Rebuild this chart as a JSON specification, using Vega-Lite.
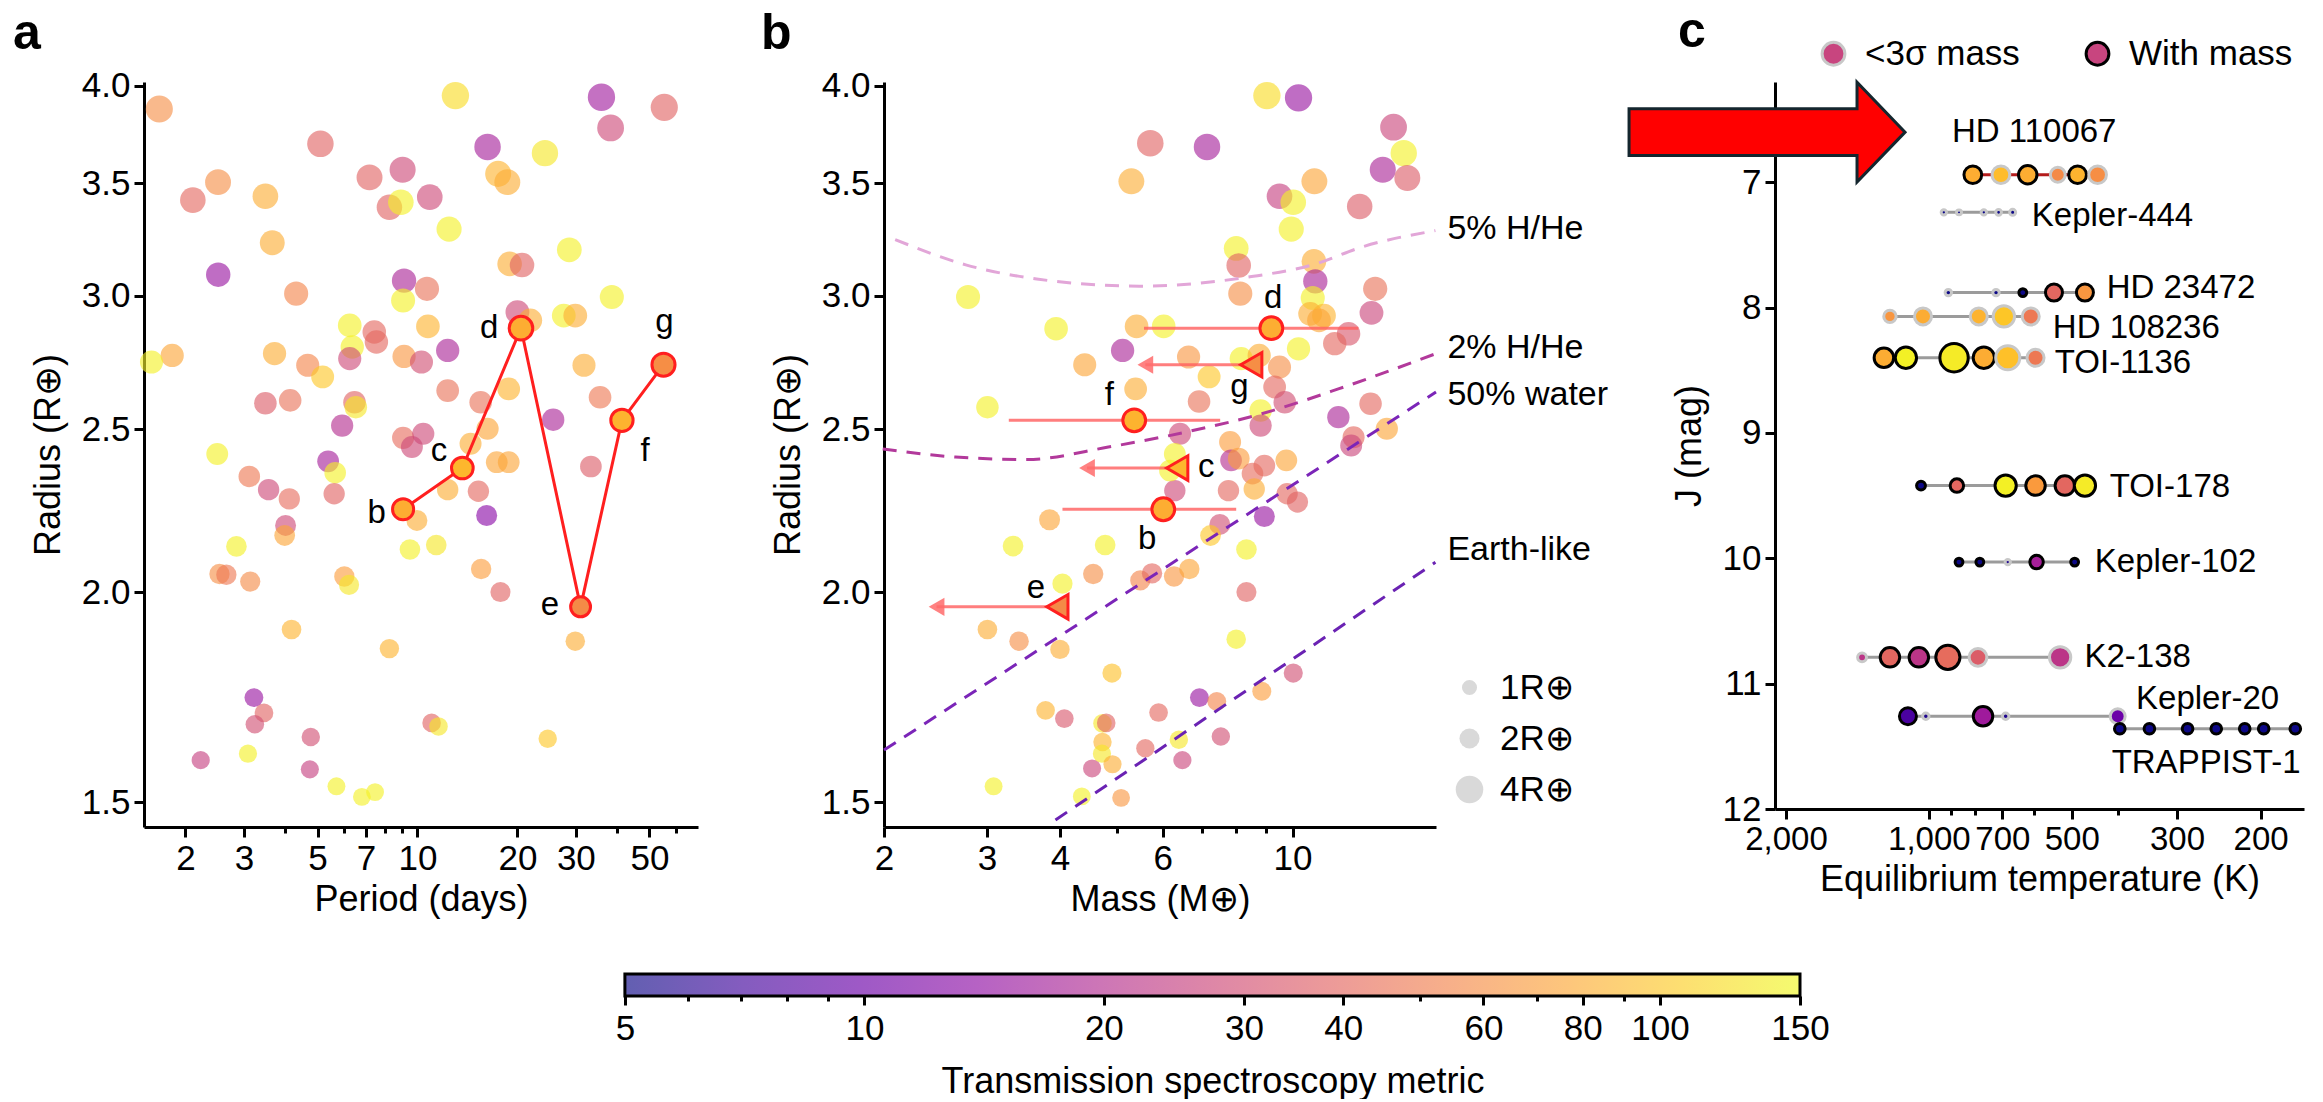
{
"$schema": "https://vega.github.io/schema/vega-lite/v6.json",
"padding": {"left": 13, "top": 6, "right": 0, "bottom": 0},
"background": "white",
"config": {
 "font": "Liberation Sans",
 "view": {"stroke": null},
 "axis": {"grid": false, "domainColor": "#000", "domainWidth": 3, "tickColor": "#000", "tickWidth": 3, "tickSize": 10, "labelFontSize": 35, "labelColor": "#000", "titleFontSize": 36, "titleColor": "#000", "titleFontWeight": "normal", "labelOverlap": false, "labelFlush": false, "labelFont": "Liberation Sans", "titleFont": "Liberation Sans", "labelPadding": 4},
 "title": {"font": "Liberation Sans", "color": "#000"},
 "legend": {"labelFont": "Liberation Sans", "labelColor": "#000", "labelLimit": 0, "symbolBaseFillColor": "#d9d9d9", "symbolBaseStrokeColor": "transparent"}
},
"datasets": {
 "panelA": [
{"period":1.668,"radius":3.874,"tsm":60},{"period":2.105,"radius":3.42,"tsm":40},{"period":2.507,"radius":3.505,"tsm":60},{"period":2.51,"radius":3.088,"tsm":15},{"period":3.482,"radius":3.438,"tsm":80},{"period":3.652,"radius":3.226,"tsm":80},{"period":4.31,"radius":3.009,"tsm":55},{"period":5.1,"radius":3.694,"tsm":38},{"period":7.17,"radius":3.528,"tsm":38},{"period":8.23,"radius":3.387,"tsm":38},{"period":9.02,"radius":3.565,"tsm":28},{"period":8.91,"radius":3.41,"tsm":140},{"period":10.89,"radius":3.434,"tsm":28},{"period":9.11,"radius":3.063,"tsm":18},{"period":9.05,"radius":2.981,"tsm":140},{"period":10.68,"radius":3.029,"tsm":45},{"period":13.01,"radius":3.946,"tsm":120},{"period":12.45,"radius":3.287,"tsm":140},{"period":16.26,"radius":3.678,"tsm":17},{"period":17.5,"radius":3.545,"tsm":85},{"period":18.65,"radius":3.505,"tsm":80},{"period":24.21,"radius":3.647,"tsm":130},{"period":18.95,"radius":3.134,"tsm":80},{"period":20.65,"radius":3.129,"tsm":38},{"period":28.67,"radius":3.195,"tsm":140},{"period":35.83,"radius":3.937,"tsm":16},{"period":38.18,"radius":3.775,"tsm":28},{"period":55.4,"radius":3.883,"tsm":38},{"period":38.5,"radius":2.995,"tsm":140},{"period":27.59,"radius":2.92,"tsm":140},{"period":29.88,"radius":2.92,"tsm":80},{"period":20.0,"radius":2.934,"tsm":28},{"period":21.87,"radius":2.901,"tsm":80},{"period":6.25,"radius":2.881,"tsm":140},{"period":7.41,"radius":2.855,"tsm":40},{"period":7.52,"radius":2.816,"tsm":40},{"period":10.75,"radius":2.877,"tsm":85},{"period":6.36,"radius":2.797,"tsm":140},{"period":6.25,"radius":2.753,"tsm":28},{"period":3.71,"radius":2.772,"tsm":80},{"period":1.824,"radius":2.765,"tsm":75},{"period":1.58,"radius":2.74,"tsm":140},{"period":4.67,"radius":2.728,"tsm":55},{"period":5.18,"radius":2.685,"tsm":100},{"period":9.11,"radius":2.761,"tsm":65},{"period":10.28,"radius":2.74,"tsm":30},{"period":12.33,"radius":2.784,"tsm":18},{"period":31.74,"radius":2.728,"tsm":80},{"period":18.83,"radius":2.641,"tsm":85},{"period":12.33,"radius":2.635,"tsm":45},{"period":15.5,"radius":2.593,"tsm":45},{"period":35.48,"radius":2.611,"tsm":48},{"period":25.64,"radius":2.532,"tsm":18},{"period":16.26,"radius":2.501,"tsm":75},{"period":3.482,"radius":2.59,"tsm":35},{"period":4.135,"radius":2.6,"tsm":45},{"period":6.46,"radius":2.593,"tsm":38},{"period":6.52,"radius":2.576,"tsm":130},{"period":5.93,"radius":2.512,"tsm":20},{"period":9.05,"radius":2.47,"tsm":42},{"period":10.41,"radius":2.484,"tsm":28},{"period":9.62,"radius":2.439,"tsm":28},{"period":14.45,"radius":2.45,"tsm":80},{"period":17.33,"radius":2.389,"tsm":75},{"period":18.83,"radius":2.389,"tsm":75},{"period":33.3,"radius":2.375,"tsm":35},{"period":2.493,"radius":2.416,"tsm":140},{"period":3.114,"radius":2.343,"tsm":48},{"period":3.56,"radius":2.301,"tsm":28},{"period":4.11,"radius":2.272,"tsm":42},{"period":5.38,"radius":2.392,"tsm":17},{"period":5.65,"radius":2.355,"tsm":140},{"period":5.61,"radius":2.288,"tsm":38},{"period":12.33,"radius":2.301,"tsm":80},{"period":15.26,"radius":2.296,"tsm":40},{"period":16.16,"radius":2.221,"tsm":13},{"period":9.96,"radius":2.206,"tsm":80},{"period":4.005,"radius":2.191,"tsm":28},{"period":3.98,"radius":2.161,"tsm":75},{"period":2.848,"radius":2.129,"tsm":140},{"period":9.49,"radius":2.12,"tsm":140},{"period":11.39,"radius":2.133,"tsm":130},{"period":2.532,"radius":2.05,"tsm":60},{"period":2.656,"radius":2.048,"tsm":48},{"period":3.134,"radius":2.029,"tsm":58},{"period":6.02,"radius":2.043,"tsm":70},{"period":6.22,"radius":2.02,"tsm":130},{"period":15.55,"radius":2.064,"tsm":70},{"period":17.78,"radius":2.0,"tsm":38},{"period":4.174,"radius":1.9,"tsm":85},{"period":8.23,"radius":1.851,"tsm":85},{"period":29.88,"radius":1.87,"tsm":80},{"period":3.215,"radius":1.731,"tsm":15},{"period":3.448,"radius":1.695,"tsm":38},{"period":3.236,"radius":1.669,"tsm":30},{"period":11.03,"radius":1.672,"tsm":38},{"period":11.57,"radius":1.664,"tsm":130},{"period":4.77,"radius":1.64,"tsm":30},{"period":24.68,"radius":1.636,"tsm":100},{"period":2.223,"radius":1.589,"tsm":25},{"period":3.085,"radius":1.603,"tsm":140},{"period":4.74,"radius":1.569,"tsm":25},{"period":5.7,"radius":1.533,"tsm":140},{"period":6.8,"radius":1.511,"tsm":140},{"period":7.45,"radius":1.521,"tsm":140}
 ],
 "panelB": [
{"mass":9.04,"radius":3.946,"tsm":120},{"mass":10.24,"radius":3.934,"tsm":15},{"mass":14.89,"radius":3.779,"tsm":27},{"mass":15.5,"radius":3.647,"tsm":140},{"mass":14.27,"radius":3.565,"tsm":18},{"mass":15.72,"radius":3.525,"tsm":35},{"mass":5.71,"radius":3.697,"tsm":38},{"mass":7.14,"radius":3.678,"tsm":17},{"mass":5.3,"radius":3.509,"tsm":80},{"mass":10.9,"radius":3.509,"tsm":75},{"mass":9.5,"radius":3.438,"tsm":25},{"mass":10.03,"radius":3.41,"tsm":140},{"mass":13.03,"radius":3.39,"tsm":35},{"mass":9.95,"radius":3.287,"tsm":140},{"mass":8.01,"radius":3.201,"tsm":140},{"mass":8.09,"radius":3.127,"tsm":38},{"mass":10.88,"radius":3.145,"tsm":80},{"mass":10.94,"radius":3.06,"tsm":18},{"mass":13.85,"radius":3.029,"tsm":45},{"mass":2.785,"radius":2.995,"tsm":140},{"mass":8.14,"radius":3.009,"tsm":60},{"mass":10.83,"radius":2.991,"tsm":140},{"mass":13.65,"radius":2.931,"tsm":27},{"mass":10.72,"radius":2.927,"tsm":80},{"mass":11.32,"radius":2.92,"tsm":85},{"mass":11.1,"radius":2.901,"tsm":75},{"mass":5.41,"radius":2.877,"tsm":80},{"mass":6.02,"radius":2.877,"tsm":140},{"mass":3.94,"radius":2.868,"tsm":140},{"mass":12.47,"radius":2.848,"tsm":33},{"mass":11.81,"radius":2.81,"tsm":40},{"mass":10.24,"radius":2.79,"tsm":140},{"mass":5.12,"radius":2.784,"tsm":18},{"mass":4.41,"radius":2.73,"tsm":75},{"mass":6.64,"radius":2.759,"tsm":65},{"mass":8.17,"radius":2.753,"tsm":140},{"mass":8.77,"radius":2.765,"tsm":80},{"mass":9.5,"radius":2.721,"tsm":60},{"mass":7.2,"radius":2.685,"tsm":100},{"mass":5.39,"radius":2.641,"tsm":80},{"mass":6.92,"radius":2.596,"tsm":45},{"mass":9.32,"radius":2.648,"tsm":40},{"mass":9.7,"radius":2.593,"tsm":30},{"mass":3.006,"radius":2.576,"tsm":140},{"mass":8.82,"radius":2.564,"tsm":140},{"mass":8.82,"radius":2.512,"tsm":28},{"mass":13.6,"radius":2.588,"tsm":40},{"mass":11.98,"radius":2.541,"tsm":18},{"mass":14.5,"radius":2.501,"tsm":75},{"mass":12.72,"radius":2.472,"tsm":40},{"mass":6.42,"radius":2.484,"tsm":28},{"mass":7.82,"radius":2.456,"tsm":70},{"mass":6.29,"radius":2.416,"tsm":140},{"mass":7.85,"radius":2.395,"tsm":20},{"mass":8.09,"radius":2.401,"tsm":70},{"mass":8.95,"radius":2.378,"tsm":40},{"mass":9.76,"radius":2.395,"tsm":75},{"mass":8.54,"radius":2.352,"tsm":42},{"mass":12.6,"radius":2.444,"tsm":27},{"mass":6.29,"radius":2.298,"tsm":28},{"mass":7.77,"radius":2.298,"tsm":40},{"mass":8.6,"radius":2.303,"tsm":80},{"mass":9.79,"radius":2.288,"tsm":40},{"mass":6.17,"radius":2.362,"tsm":140},{"mass":10.2,"radius":2.262,"tsm":38},{"mass":3.84,"radius":2.208,"tsm":75},{"mass":7.51,"radius":2.194,"tsm":30},{"mass":8.95,"radius":2.218,"tsm":15},{"mass":7.24,"radius":2.161,"tsm":100},{"mass":3.325,"radius":2.13,"tsm":140},{"mass":4.78,"radius":2.133,"tsm":140},{"mass":8.34,"radius":2.12,"tsm":140},{"mass":4.56,"radius":2.05,"tsm":60},{"mass":5.49,"radius":2.032,"tsm":55},{"mass":5.75,"radius":2.052,"tsm":40},{"mass":6.27,"radius":2.043,"tsm":65},{"mass":6.66,"radius":2.064,"tsm":75},{"mass":4.04,"radius":2.023,"tsm":140},{"mass":8.34,"radius":2.0,"tsm":38},{"mass":3.006,"radius":1.9,"tsm":80},{"mass":3.405,"radius":1.87,"tsm":60},{"mass":4.0,"radius":1.849,"tsm":80},{"mass":8.01,"radius":1.875,"tsm":140},{"mass":4.91,"radius":1.79,"tsm":95},{"mass":10.03,"radius":1.79,"tsm":30},{"mass":3.78,"radius":1.701,"tsm":85},{"mass":4.07,"radius":1.682,"tsm":33},{"mass":6.93,"radius":1.731,"tsm":15},{"mass":7.42,"radius":1.722,"tsm":55},{"mass":8.86,"radius":1.746,"tsm":70},{"mass":4.73,"radius":1.671,"tsm":130},{"mass":4.8,"radius":1.672,"tsm":38},{"mass":5.9,"radius":1.696,"tsm":40},{"mass":4.73,"radius":1.629,"tsm":85},{"mass":5.6,"radius":1.615,"tsm":40},{"mass":6.39,"radius":1.634,"tsm":130},{"mass":7.54,"radius":1.641,"tsm":30},{"mass":4.72,"radius":1.603,"tsm":130},{"mass":4.54,"radius":1.571,"tsm":27},{"mass":4.92,"radius":1.58,"tsm":80},{"mass":6.48,"radius":1.589,"tsm":27},{"mass":3.08,"radius":1.533,"tsm":140},{"mass":4.36,"radius":1.512,"tsm":140},{"mass":5.09,"radius":1.509,"tsm":65}
 ],
 "hd110067": [
{"planet":"b","period":9.05,"radius":2.24,"tsm":81,"mass":6.01,"massLow":4.04,"massHigh":8.01,"limit":false,"labelPeriod":7.54,"labelRadiusA":2.23,"labelMass":5.64,"labelRadiusB":2.152},
{"planet":"c","period":13.65,"radius":2.37,"tsm":88,"mass":6.35,"massLow":4.45,"massHigh":6.35,"limit":true,"labelPeriod":11.6,"labelRadiusA":2.427,"labelMass":7.12,"labelRadiusB":2.372},
{"planet":"d","period":20.5,"radius":2.87,"tsm":81,"mass":9.2,"massLow":5.57,"massHigh":12.96,"limit":false,"labelPeriod":16.43,"labelRadiusA":2.869,"labelMass":9.27,"labelRadiusB":2.993},
{"planet":"e","period":31.0,"radius":1.96,"tsm":58,"mass":3.96,"massLow":2.46,"massHigh":3.96,"limit":true,"labelPeriod":25.05,"labelRadiusA":1.964,"labelMass":3.64,"labelRadiusB":2.012},
{"planet":"f","period":41.3,"radius":2.53,"tsm":85,"mass":5.36,"massLow":3.27,"massHigh":7.52,"limit":false,"labelPeriod":48.5,"labelRadiusA":2.427,"labelMass":4.86,"labelRadiusB":2.618},
{"planet":"g","period":55.1,"radius":2.73,"tsm":60,"mass":8.5,"massLow":5.6,"massHigh":8.5,"limit":true,"labelPeriod":55.5,"labelRadiusA":2.893,"labelMass":8.11,"labelRadiusB":2.647}
 ],
 "curves": [
{"curve":"5% H/He","mass":2.09,"radius":3.24},{"curve":"5% H/He","mass":2.76,"radius":3.13},{"curve":"5% H/He","mass":3.65,"radius":3.07},{"curve":"5% H/He","mass":5.47,"radius":3.04},{"curve":"5% H/He","mass":8.51,"radius":3.08},{"curve":"5% H/He","mass":10.83,"radius":3.13},{"curve":"5% H/He","mass":13.25,"radius":3.21},{"curve":"5% H/He","mass":17.56,"radius":3.28},
{"curve":"2% H/He","mass":1.99,"radius":2.433},{"curve":"2% H/He","mass":2.65,"radius":2.406},{"curve":"2% H/He","mass":3.51,"radius":2.398},{"curve":"2% H/He","mass":4.84,"radius":2.439},{"curve":"2% H/He","mass":6.55,"radius":2.489},{"curve":"2% H/He","mass":8.86,"radius":2.553},{"curve":"2% H/He","mass":11.98,"radius":2.641},{"curve":"2% H/He","mass":17.56,"radius":2.771},
{"curve":"50% water","mass":2.0,"radius":1.611},{"curve":"50% water","mass":17.6,"radius":2.63},
{"curve":"Earth-like","mass":3.93,"radius":1.464},{"curve":"Earth-like","mass":17.56,"radius":2.083}
 ],
 "curveLabels": [
{"label":"5% H/He","mass":18.41,"radius":3.289},{"label":"2% H/He","mass":18.41,"radius":2.795},{"label":"50% water","mass":18.41,"radius":2.618},{"label":"Earth-like","mass":18.41,"radius":2.118}
 ],
 "panelC": [
{"system":"HD 110067","teq":808,"j":6.94,"tsm":81,"radius":2.5,"status":"With mass"},{"system":"HD 110067","teq":705,"j":6.94,"tsm":92,"radius":2.5,"status":"<3σ mass"},{"system":"HD 110067","teq":619,"j":6.94,"tsm":81,"radius":2.6,"status":"With mass"},{"system":"HD 110067","teq":535,"j":6.94,"tsm":58,"radius":2.1,"status":"<3σ mass"},{"system":"HD 110067","teq":486,"j":6.94,"tsm":85,"radius":2.5,"status":"With mass"},{"system":"HD 110067","teq":441,"j":6.94,"tsm":60,"radius":2.5,"status":"<3σ mass"},
{"system":"Kepler-444","teq":930,"j":7.24,"tsm":5,"radius":0.75,"status":"<3σ mass"},{"system":"Kepler-444","teq":864,"j":7.24,"tsm":5,"radius":0.7,"status":"<3σ mass"},{"system":"Kepler-444","teq":766,"j":7.24,"tsm":5,"radius":0.75,"status":"<3σ mass"},{"system":"Kepler-444","teq":713,"j":7.24,"tsm":5,"radius":0.8,"status":"<3σ mass"},{"system":"Kepler-444","teq":666,"j":7.24,"tsm":5,"radius":0.85,"status":"<3σ mass"},
{"system":"HD 23472","teq":910,"j":7.88,"tsm":5,"radius":0.9,"status":"<3σ mass"},{"system":"HD 23472","teq":722,"j":7.88,"tsm":5,"radius":0.9,"status":"<3σ mass"},{"system":"HD 23472","teq":634,"j":7.88,"tsm":5,"radius":1.1,"status":"With mass"},{"system":"HD 23472","teq":545,"j":7.88,"tsm":40,"radius":2.4,"status":"With mass"},{"system":"HD 23472","teq":469,"j":7.88,"tsm":65,"radius":2.4,"status":"With mass"},
{"system":"HD 108236","teq":1208,"j":8.07,"tsm":65,"radius":1.75,"status":"<3σ mass"},{"system":"HD 108236","teq":1029,"j":8.07,"tsm":80,"radius":2.4,"status":"<3σ mass"},{"system":"HD 108236","teq":785,"j":8.07,"tsm":85,"radius":2.4,"status":"<3σ mass"},{"system":"HD 108236","teq":695,"j":8.07,"tsm":100,"radius":3.0,"status":"<3σ mass"},{"system":"HD 108236","teq":610,"j":8.07,"tsm":48,"radius":2.4,"status":"<3σ mass"},
{"system":"TOI-1136","teq":1244,"j":8.4,"tsm":80,"radius":2.75,"status":"With mass"},{"system":"TOI-1136","teq":1118,"j":8.4,"tsm":140,"radius":3.0,"status":"With mass"},{"system":"TOI-1136","teq":885,"j":8.4,"tsm":135,"radius":4.0,"status":"With mass"},{"system":"TOI-1136","teq":766,"j":8.4,"tsm":80,"radius":3.0,"status":"With mass"},{"system":"TOI-1136","teq":682,"j":8.4,"tsm":95,"radius":3.4,"status":"<3σ mass"},{"system":"TOI-1136","teq":596,"j":8.4,"tsm":48,"radius":2.4,"status":"<3σ mass"},
{"system":"TOI-178","teq":1039,"j":9.42,"tsm":5,"radius":1.25,"status":"With mass"},{"system":"TOI-178","teq":873,"j":9.42,"tsm":40,"radius":1.9,"status":"With mass"},{"system":"TOI-178","teq":689,"j":9.42,"tsm":140,"radius":3.0,"status":"With mass"},{"system":"TOI-178","teq":596,"j":9.42,"tsm":68,"radius":2.75,"status":"With mass"},{"system":"TOI-178","teq":517,"j":9.42,"tsm":40,"radius":2.75,"status":"With mass"},{"system":"TOI-178","teq":469,"j":9.42,"tsm":135,"radius":3.0,"status":"With mass"},
{"system":"Kepler-102","teq":864,"j":10.03,"tsm":5,"radius":1.1,"status":"With mass"},{"system":"Kepler-102","teq":781,"j":10.03,"tsm":5,"radius":1.1,"status":"With mass"},{"system":"Kepler-102","teq":682,"j":10.03,"tsm":5.5,"radius":0.75,"status":"<3σ mass"},{"system":"Kepler-102","teq":593,"j":10.03,"tsm":17,"radius":1.9,"status":"With mass"},{"system":"Kepler-102","teq":493,"j":10.03,"tsm":5,"radius":1.1,"status":"With mass"},
{"system":"K2-138","teq":1383,"j":10.79,"tsm":22,"radius":1.25,"status":"<3σ mass"},{"system":"K2-138","teq":1208,"j":10.79,"tsm":40,"radius":2.75,"status":"With mass"},{"system":"K2-138","teq":1050,"j":10.79,"tsm":22,"radius":2.75,"status":"With mass"},{"system":"K2-138","teq":912,"j":10.79,"tsm":42,"radius":3.4,"status":"With mass"},{"system":"K2-138","teq":788,"j":10.79,"tsm":35,"radius":2.5,"status":"<3σ mass"},{"system":"K2-138","teq":529,"j":10.79,"tsm":22,"radius":3.0,"status":"<3σ mass"},
{"system":"Kepler-20","teq":1107,"j":11.26,"tsm":7.5,"radius":2.4,"status":"With mass"},{"system":"Kepler-20","teq":1015,"j":11.26,"tsm":5.5,"radius":0.9,"status":"<3σ mass"},{"system":"Kepler-20","teq":769,"j":11.26,"tsm":16,"radius":2.75,"status":"With mass"},{"system":"Kepler-20","teq":689,"j":11.26,"tsm":5.5,"radius":0.9,"status":"<3σ mass"},{"system":"Kepler-20","teq":400,"j":11.26,"tsm":10,"radius":2.1,"status":"<3σ mass"},
{"system":"TRAPPIST-1","teq":396,"j":11.36,"tsm":5,"radius":1.5,"status":"With mass"},{"system":"TRAPPIST-1","teq":343,"j":11.36,"tsm":5,"radius":1.5,"status":"With mass"},{"system":"TRAPPIST-1","teq":285,"j":11.36,"tsm":5,"radius":1.5,"status":"With mass"},{"system":"TRAPPIST-1","teq":248,"j":11.36,"tsm":5,"radius":1.5,"status":"With mass"},{"system":"TRAPPIST-1","teq":216,"j":11.36,"tsm":5,"radius":1.5,"status":"With mass"},{"system":"TRAPPIST-1","teq":197,"j":11.36,"tsm":5,"radius":1.5,"status":"With mass"},{"system":"TRAPPIST-1","teq":169,"j":11.36,"tsm":5,"radius":1.5,"status":"With mass"}
 ],
 "systemLabels": [
{"system":"HD 110067","teq":894,"j":6.6},{"system":"Kepler-444","teq":607,"j":7.27},{"system":"HD 23472","teq":422,"j":7.84},{"system":"HD 108236","teq":548,"j":8.16},{"system":"TOI-1136","teq":543,"j":8.44},{"system":"TOI-178","teq":416,"j":9.43},{"system":"Kepler-102","teq":447,"j":10.03},{"system":"K2-138","teq":470,"j":10.79},{"system":"Kepler-20","teq":366,"j":11.12},{"system":"TRAPPIST-1","teq":412,"j":11.63}
 ],
 "arrow": [{"teq": 2193, "j": 6.6}]
},
"vconcat": [
 {
  "hconcat": [
   {
    "width": 554, "height": 745,
    "title": {"text": "a", "anchor": "start", "frame": "group", "dx": -131, "dy": 53.5, "offset": 23, "fontSize": 50, "fontWeight": "bold", "baseline": "alphabetic"},
    "layer": [
     {
      "data": {"name": "panelA"},
      "mark": {"type": "circle", "opacity": 0.62},
      "encoding": {
       "x": {"field": "period", "type": "quantitative", "scale": {"type": "log", "domain": [1.5, 70], "nice": false},
             "axis": {"title": "Period (days)", "values": [2,3,4,5,6,7,8,9,10,20,30,40,50,60], "labelExpr": "indexof([2,3,5,7,10,20,30,50], datum.value) >= 0 ? datum.label : ''", "tickSize": {"condition": {"test": "indexof([2,3,5,7,10,20,30,50], datum.value) >= 0", "value": 10}, "value": 6}, "titlePadding": 6}},
       "y": {"field": "radius", "type": "quantitative", "scale": {"type": "log", "domain": [1.45, 4.02], "nice": false},
             "axis": {"title": "Radius (R⊕)", "values": [1.5,2,2.5,3,3.5,4], "format": ".1f", "titlePadding": 14}},
       "color": {"field": "tsm", "type": "quantitative", "scale": {"type": "log", "domain": [5, 150], "scheme": "plasma", "clamp": true}, "legend": null},
       "size": {"field": "radius", "type": "quantitative", "scale": {"type": "linear", "domain": [1, 4], "range": [227, 758], "zero": false}, "legend": null}
      }
     },
     {
      "data": {"name": "hd110067"},
      "mark": {"type": "line", "color": "#ff1f1f", "strokeWidth": 3},
      "encoding": {"x": {"field": "period", "type": "quantitative"}, "y": {"field": "radius", "type": "quantitative"}}
     },
     {
      "data": {"name": "hd110067"},
      "mark": {"type": "circle", "opacity": 1, "stroke": "#ff1f1f", "strokeWidth": 3},
      "encoding": {"x": {"field": "period", "type": "quantitative"}, "y": {"field": "radius", "type": "quantitative"}, "color": {"field": "tsm", "type": "quantitative"}, "size": {"field": "radius", "type": "quantitative"}}
     },
     {
      "data": {"name": "hd110067"},
      "mark": {"type": "text", "fontSize": 33, "align": "center", "baseline": "middle"},
      "encoding": {"x": {"field": "labelPeriod", "type": "quantitative"}, "y": {"field": "labelRadiusA", "type": "quantitative"}, "text": {"field": "planet"}}
     }
    ]
   },
   {
    "hconcat": [
     {
      "width": 552, "height": 745,
      "title": {"text": "b", "anchor": "start", "frame": "group", "dx": -123, "dy": 53.5, "offset": 23, "fontSize": 50, "fontWeight": "bold", "baseline": "alphabetic"},
      "layer": [
       {
        "data": {"name": "panelB"},
        "mark": {"type": "circle", "opacity": 0.62},
        "encoding": {
         "x": {"field": "mass", "type": "quantitative", "scale": {"type": "log", "domain": [2, 17.6], "nice": false},
               "axis": {"title": "Mass (M⊕)", "values": [2,3,4,5,6,7,8,9,10], "labelExpr": "indexof([2,3,4,6,10], datum.value) >= 0 ? datum.label : ''", "tickSize": {"condition": {"test": "indexof([2,3,4,6,10], datum.value) >= 0", "value": 10}, "value": 6}, "titlePadding": 6}},
         "y": {"field": "radius", "type": "quantitative", "scale": {"type": "log", "domain": [1.45, 4.02], "nice": false},
               "axis": {"title": "Radius (R⊕)", "values": [1.5,2,2.5,3,3.5,4], "format": ".1f", "titlePadding": 14}},
         "color": {"field": "tsm", "type": "quantitative"},
         "size": {"field": "radius", "type": "quantitative", "scale": {"type": "linear", "domain": [1, 4], "range": [227, 758], "zero": false},
                  "legend": {"orient": "none", "legendX": 568, "legendY": 588, "values": [1, 2, 4], "title": null, "symbolType": "circle", "symbolFillColor": "#d9d9d9", "symbolStrokeColor": "transparent", "symbolStrokeWidth": 0, "symbolOpacity": 1, "labelFontSize": 35, "labelExpr": "datum.value + 'R⊕'", "rowPadding": 15, "labelOffset": 13}}
        }
       },
       {
        "data": {"name": "curves"}, "transform": [{"filter": "datum.curve === '5% H/He'"}],
        "mark": {"type": "line", "color": "#e2a6d8", "strokeWidth": 3, "strokeDash": [14, 10], "interpolate": "monotone"},
        "encoding": {"x": {"field": "mass", "type": "quantitative"}, "y": {"field": "radius", "type": "quantitative"}}
       },
       {
        "data": {"name": "curves"}, "transform": [{"filter": "datum.curve === '2% H/He'"}],
        "mark": {"type": "line", "color": "#b2399b", "strokeWidth": 3, "strokeDash": [14, 10], "interpolate": "monotone"},
        "encoding": {"x": {"field": "mass", "type": "quantitative"}, "y": {"field": "radius", "type": "quantitative"}}
       },
       {
        "data": {"name": "curves"}, "transform": [{"filter": "datum.curve === '50% water'"}],
        "mark": {"type": "line", "color": "#7b25b8", "strokeWidth": 3, "strokeDash": [14, 10]},
        "encoding": {"x": {"field": "mass", "type": "quantitative"}, "y": {"field": "radius", "type": "quantitative"}}
       },
       {
        "data": {"name": "curves"}, "transform": [{"filter": "datum.curve === 'Earth-like'"}],
        "mark": {"type": "line", "color": "#6a22b3", "strokeWidth": 3, "strokeDash": [14, 10]},
        "encoding": {"x": {"field": "mass", "type": "quantitative"}, "y": {"field": "radius", "type": "quantitative"}}
       },
       {
        "data": {"name": "hd110067"}, "transform": [{"filter": "!datum.limit"}],
        "mark": {"type": "rule", "color": "#ff5e5e", "opacity": 0.8, "strokeWidth": 3},
        "encoding": {"x": {"field": "massLow", "type": "quantitative"}, "x2": {"field": "massHigh"}, "y": {"field": "radius", "type": "quantitative"}}
       },
       {
        "data": {"name": "hd110067"}, "transform": [{"filter": "datum.limit"}],
        "mark": {"type": "rule", "color": "#ff5e5e", "opacity": 0.8, "strokeWidth": 3},
        "encoding": {"x": {"field": "massLow", "type": "quantitative"}, "x2": {"field": "mass"}, "y": {"field": "radius", "type": "quantitative"}}
       },
       {
        "data": {"name": "hd110067"}, "transform": [{"filter": "datum.limit"}],
        "mark": {"type": "point", "shape": "triangle-left", "filled": true, "color": "#ff6b6b", "opacity": 0.85, "size": 330},
        "encoding": {"x": {"field": "massLow", "type": "quantitative"}, "y": {"field": "radius", "type": "quantitative"}}
       },
       {
        "data": {"name": "hd110067"}, "transform": [{"filter": "!datum.limit"}],
        "mark": {"type": "circle", "opacity": 1, "stroke": "#ff1f1f", "strokeWidth": 3, "size": 520},
        "encoding": {"x": {"field": "mass", "type": "quantitative"}, "y": {"field": "radius", "type": "quantitative"}, "color": {"field": "tsm", "type": "quantitative"}}
       },
       {
        "data": {"name": "hd110067"}, "transform": [{"filter": "datum.limit"}],
        "mark": {"type": "point", "shape": "triangle-left", "filled": true, "opacity": 1, "stroke": "#ff1f1f", "strokeWidth": 3, "size": 600},
        "encoding": {"x": {"field": "mass", "type": "quantitative"}, "y": {"field": "radius", "type": "quantitative"}, "color": {"field": "tsm", "type": "quantitative"}}
       },
       {
        "data": {"name": "hd110067"},
        "mark": {"type": "text", "fontSize": 33, "align": "center", "baseline": "middle"},
        "encoding": {"x": {"field": "labelMass", "type": "quantitative"}, "y": {"field": "labelRadiusB", "type": "quantitative"}, "text": {"field": "planet"}}
       },
       {
        "data": {"name": "curveLabels"},
        "mark": {"type": "text", "fontSize": 34, "align": "left", "baseline": "middle"},
        "encoding": {"x": {"field": "mass", "type": "quantitative"}, "y": {"field": "radius", "type": "quantitative"}, "text": {"field": "label"}}
       }
      ]
     },
     {
      "width": 529, "height": 727,
      "title": {"text": "c", "anchor": "start", "frame": "group", "dx": -97, "dy": 83.5, "offset": 23, "fontSize": 50, "fontWeight": "bold", "baseline": "alphabetic"},
      "layer": [
       {
        "data": {"name": "arrow"},
        "mark": {"type": "point", "shape": "M-1,-0.17L0.652,-0.17L0.652,-0.362L1,0L0.652,0.362L0.652,0.17L-1,0.17Z", "size": 76176, "filled": true, "fill": "#ff0000", "stroke": "#14262e", "strokeWidth": 3, "opacity": 1, "strokeJoin": "miter"},
        "encoding": {
         "x": {"field": "teq", "type": "quantitative", "scale": {"type": "log", "domain": [162, 2110], "reverse": true, "nice": false},
               "axis": {"title": "Equilibrium temperature (K)", "values": [2000,1000,900,800,700,600,500,400,300,200], "labelExpr": "indexof([2000,1000,700,500,300,200], datum.value) >= 0 ? format(datum.value, ',') : ''", "tickSize": {"condition": {"test": "indexof([2000,1000,700,500,300,200], datum.value) >= 0", "value": 10}, "value": 6}, "titlePadding": 6, "labelFontSize": 33}},
         "y": {"field": "j", "type": "quantitative", "scale": {"domain": [6.2, 12], "reverse": true, "zero": false, "nice": false},
               "axis": {"title": "J (mag)", "values": [7,8,9,10,11,12], "format": "d", "titlePadding": 14}}
        }
       },
       {
        "data": {"name": "panelC"}, "transform": [{"filter": "datum.system !== 'HD 110067'"}],
        "mark": {"type": "line", "color": "#9b9b9b", "strokeWidth": 3},
        "encoding": {"x": {"field": "teq", "type": "quantitative"}, "y": {"field": "j", "type": "quantitative"}, "detail": {"field": "system"}}
       },
       {
        "data": {"name": "panelC"}, "transform": [{"filter": "datum.system === 'HD 110067'"}],
        "mark": {"type": "line", "color": "#b31b1b", "strokeWidth": 3},
        "encoding": {"x": {"field": "teq", "type": "quantitative"}, "y": {"field": "j", "type": "quantitative"}}
       },
       {
        "data": {"name": "panelC"},
        "mark": {"type": "circle", "opacity": 1, "strokeWidth": 3},
        "encoding": {
         "x": {"field": "teq", "type": "quantitative"},
         "y": {"field": "j", "type": "quantitative"},
         "color": {"field": "tsm", "type": "quantitative"},
         "size": {"field": "radius", "type": "quantitative", "scale": {"type": "pow", "exponent": 2, "domain": [0, 5], "range": [0, 1257]}, "legend": null},
         "stroke": {"field": "status", "type": "nominal", "scale": {"domain": ["<3σ mass", "With mass"], "range": ["#c8c8c8", "#000000"]},
                    "legend": {"orient": "none", "legendX": 41, "legendY": -46, "direction": "horizontal", "title": null, "symbolType": "circle", "symbolSize": 520, "symbolFillColor": "#c8457f", "symbolStrokeWidth": 3, "symbolOpacity": 1, "labelFontSize": 35, "labelOffset": 14, "columnPadding": 60}}
        }
       },
       {
        "data": {"name": "systemLabels"},
        "mark": {"type": "text", "fontSize": 33, "align": "left", "baseline": "middle"},
        "encoding": {"x": {"field": "teq", "type": "quantitative"}, "y": {"field": "j", "type": "quantitative"}, "text": {"field": "system"}}
       }
      ]
     }
    ],
    "spacing": 339,
    "bounds": "flush",
    "resolve": {"scale": {"color": "shared", "size": "independent", "stroke": "independent"}, "legend": {"size": "independent", "stroke": "independent"}}
   }
  ],
  "spacing": 186,
  "bounds": "flush",
  "resolve": {"scale": {"color": "shared", "size": "independent", "stroke": "independent"}, "legend": {"size": "independent", "stroke": "independent"}}
 },
 {
  "width": 1656, "height": 22,
  "data": {"values": [{"low": 5, "high": 150}]},
  "mark": {"type": "rect", "stroke": "#000", "strokeWidth": 3,
           "fill": {"gradient": "linear", "x1": 0, "x2": 1, "y1": 0, "y2": 0, "stops": [
             {"offset": 0, "color": "#625fb1"}, {"offset": 0.1, "color": "#845cbf"}, {"offset": 0.2, "color": "#9e59c6"}, {"offset": 0.3, "color": "#b662c4"}, {"offset": 0.4, "color": "#cc75b7"}, {"offset": 0.5, "color": "#de87a7"}, {"offset": 0.6, "color": "#ec9a99"}, {"offset": 0.7, "color": "#f7af8a"}, {"offset": 0.8, "color": "#fdc57c"}, {"offset": 0.9, "color": "#fddf71"}, {"offset": 1, "color": "#f5fb6f"}]}},
  "encoding": {
   "x": {"field": "low", "type": "quantitative", "scale": {"type": "log", "domain": [1.243, 150], "nice": false},
         "axis": {"title": "Transmission spectroscopy metric", "values": [5,6,7,8,9,10,20,30,40,50,60,70,80,90,100,150], "labelExpr": "indexof([5,10,20,30,40,60,80,100,150], datum.value) >= 0 ? datum.label : ''", "tickSize": {"condition": {"test": "indexof([5,10,20,30,40,60,80,100,150], datum.value) >= 0", "value": 9}, "value": 5}, "domain": false, "titleX": 1068.5, "titleAlign": "center", "titlePadding": 18, "labelPadding": 6}},
   "x2": {"field": "high"}
  }
 }
],
"spacing": 55,
"resolve": {"scale": {"color": "shared", "size": "independent", "stroke": "independent"}, "legend": {"size": "independent", "stroke": "independent"}}
}
